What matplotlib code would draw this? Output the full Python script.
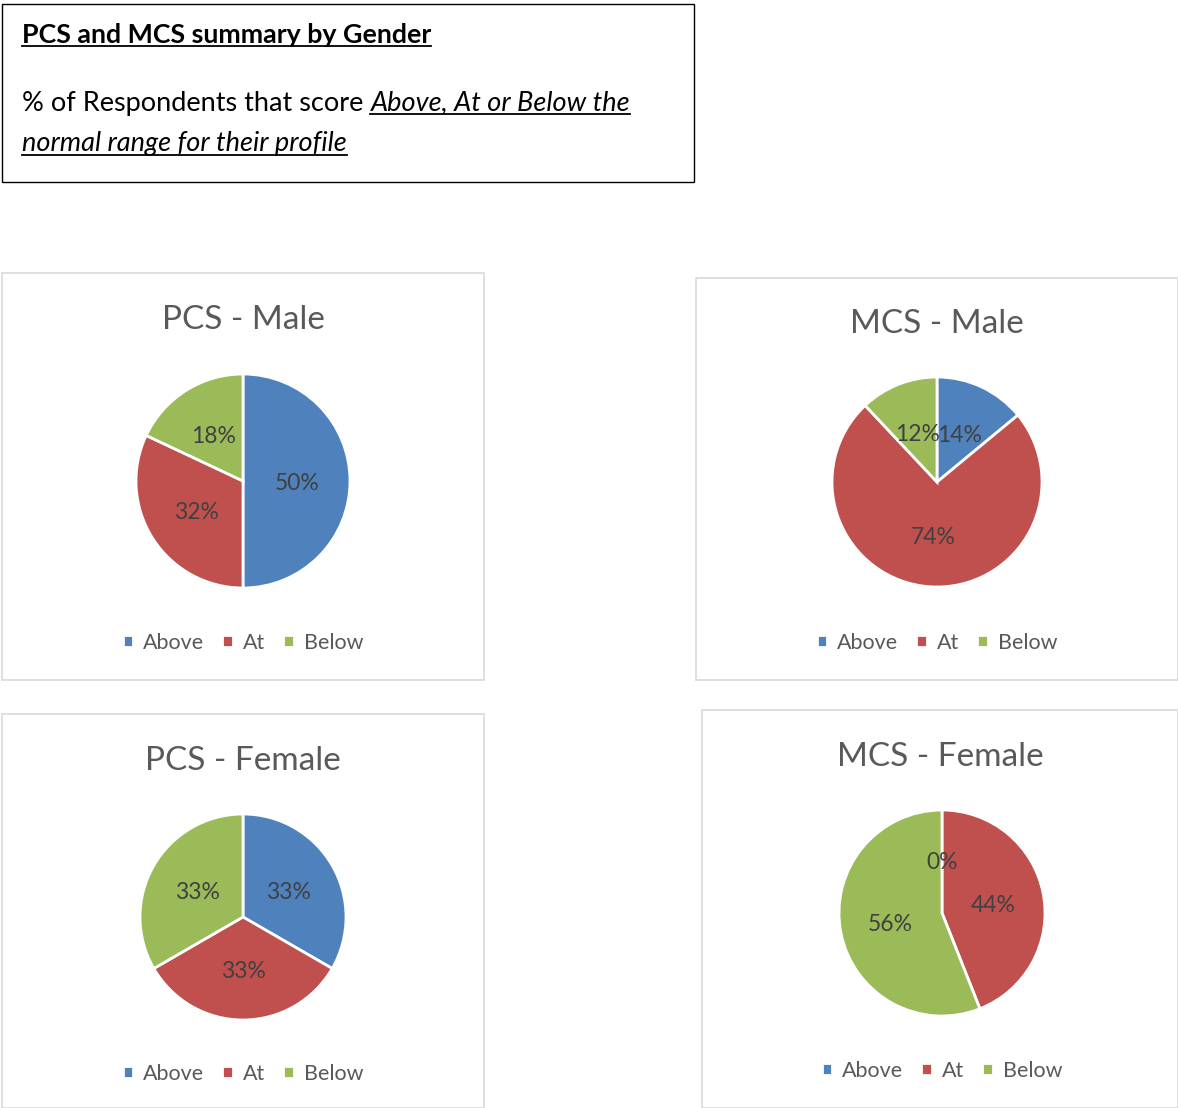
import matplotlib
matplotlib.use("Agg")
import matplotlib.pyplot as plt
from matplotlib.patches import Rectangle
from matplotlib.lines import Line2D

W, H = 1178, 1108

categories = ["Above", "At", "Below"]
colors = ["#4F81BD", "#C0504D", "#9BBB59"]

chart_titles = ["PCS - Male", "MCS - Male", "PCS - Female", "MCS - Female"]
pcs_male = [50, 32, 18]
mcs_male = [14, 74, 12]
pcs_female = [33, 33, 33]
mcs_female = [0, 44, 56]

plt.rcParams['font.family'] = ['Lato', 'DejaVu Sans']

fig = plt.figure(figsize=(W / 100, H / 100), dpi=100)


def fx(x):
    return x / W


def fy(y):
    return 1 - y / H


# heading box
fig.patches.append(Rectangle((fx(2), fy(182)), fx(694) - fx(2), fy(4) - fy(182),
                             transform=fig.transFigure, fill=False, edgecolor="black", lw=1))

t1 = fig.text(fx(22), fy(35), "PCS and MCS summary by Gender", fontsize=19.3, fontweight="bold",
              va="center", ha="left", color="black")
t2 = fig.text(fx(22), fy(103), "% of Respondents that score ", fontsize=19.5,
              va="center", ha="left", color="black")
fig.canvas.draw()
r = fig.canvas.get_renderer()
bb2 = t2.get_window_extent(r)
t3 = fig.text(bb2.x1 / W, fy(103), "Above, At or Below the", fontsize=19.5, style="italic",
              va="center", ha="left", color="black")
t4 = fig.text(fx(22), fy(144), "normal range for their profile", fontsize=19.5, style="italic",
              va="center", ha="left", color="black")
fig.canvas.draw()


def underline(t, y):
    bb = t.get_window_extent(r)
    fig.add_artist(Line2D([bb.x0 / W, bb.x1 / W], [fy(y), fy(y)], transform=fig.transFigure,
                          color="black", lw=1.3))


underline(t1, 46)
underline(t3, 114)
underline(t4, 155)

# panels: (left, top, right, bottom), pie centre, radius, title y, legend y
panels = [
    ((2, 273, 484, 680), (243, 481), 107, 318, 641, pcs_male),
    ((696, 278, 1178, 680), (937, 482), 105, 322, 641, mcs_male),
    ((2, 714, 484, 1108), (243, 917), 103, 759, 1072, pcs_female),
    ((702, 710, 1178, 1108), (942, 913), 103, 755, 1069, mcs_female),
]

for (box, (cx, cy), R, ty, ly, vals), title in zip(panels, chart_titles):
    x0, y0, x1, y1 = box
    fig.patches.append(Rectangle((fx(x0), fy(y1)), fx(x1) - fx(x0), fy(y0) - fy(y1),
                                 transform=fig.transFigure, fill=False,
                                 edgecolor="#D9D9D9", lw=1.2))
    fig.text(fx((x0 + x1) / 2), fy(ty + 2), title, fontsize=24, color="#595959",
             ha="center", va="center")
    m = R + 4
    ax = fig.add_axes([fx(cx - m), fy(cy + m), 2 * m / W, 2 * m / H])
    wedges, _, autotexts = ax.pie(vals, colors=colors, startangle=90, counterclock=False,
                                  autopct=lambda p: "%d%%" % round(p), pctdistance=0.51,
                                  wedgeprops=dict(edgecolor="white", linewidth=2),
                                  textprops=dict(fontsize=16.5, color="#404040"))
    for a in autotexts:
        a.set_y(a.get_position()[1] - 2 / R)
    ax.set_xlim(-m / R, m / R)
    ax.set_ylim(-m / R, m / R)
    fig.legend(wedges, categories, loc="center", bbox_to_anchor=(fx(cx), fy(ly + 2)),
               ncol=3, frameon=False, fontsize=15.5, handlelength=0.5, handleheight=0.5,
               handletextpad=0.45, columnspacing=0.85, labelcolor="#595959")

fig.savefig("out.png", dpi=100)
